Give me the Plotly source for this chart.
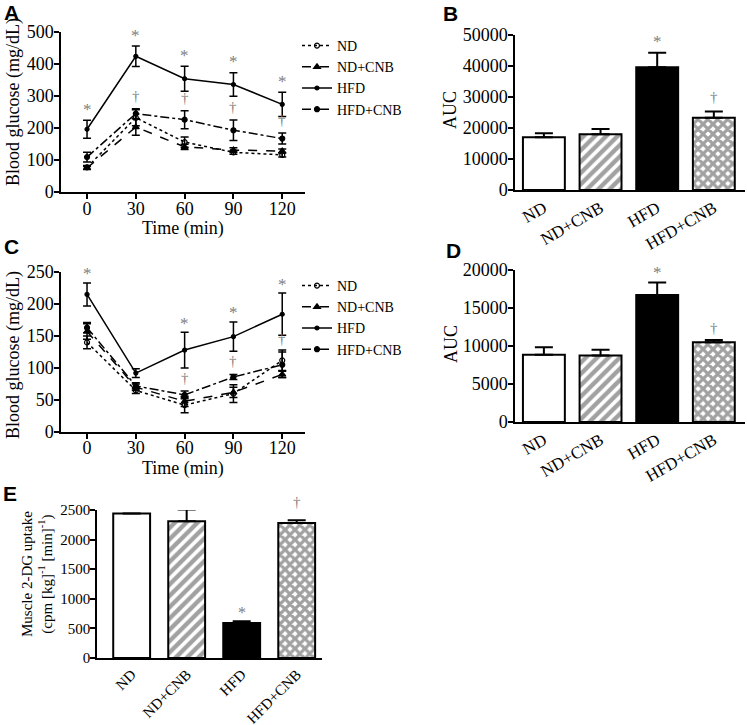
import plotly.graph_objects as go

W, H = 747, 725

time = [0, 30, 60, 90, 120]
groups = ["ND", "ND+CNB", "HFD", "HFD+CNB"]

# Panel A: glucose tolerance (mg/dL)
a_mean = {
    "ND": [77, 232, 156, 124, 116],
    "ND+CNB": [75, 203, 141, 131, 128],
    "HFD": [196, 424, 354, 336, 274],
    "HFD+CNB": [109, 245, 226, 193, 167],
}
a_err = {
    "ND": [6, 25, 16, 6, 7],
    "ND+CNB": [5, 26, 8, 7, 6],
    "HFD": [28, 32, 39, 37, 38],
    "HFD+CNB": [15, 15, 28, 32, 17],
}
a_star_idx = [0, 1, 2, 3, 4]
a_dagger_idx = [1, 2, 3, 4]

# Panel C: insulin tolerance (mg/dL)
c_mean = {
    "ND": [140, 65, 42, 60, 112],
    "ND+CNB": [157, 70, 48, 62, 90],
    "HFD": [215, 92, 128, 149, 184],
    "HFD+CNB": [163, 72, 58, 86, 105],
}
c_err = {
    "ND": [10, 5, 12, 14, 16],
    "ND+CNB": [12, 5, 8, 8, 5],
    "HFD": [18, 7, 28, 23, 33],
    "HFD+CNB": [8, 5, 6, 4, 20],
}
c_star_idx = [0, 2, 3, 4]
c_dagger_idx = [2, 3, 4]

# Panel B / D: AUC ; Panel E: muscle 2-DG uptake
b_val = [17000, 17960, 39570, 23300]
b_err = [1300, 1700, 4700, 2000]
d_val = [8840, 8750, 16700, 10500]
d_err = [1000, 750, 1650, 300]
e_val = [2440, 2310, 590, 2280]
e_err = [0, 200, 30, 45]

line_dash = {"ND": "dot", "ND+CNB": "dash", "HFD": "solid", "HFD+CNB": "dashdot"}
line_sym = {"ND": "circle-open", "ND+CNB": "triangle-up", "HFD": "circle", "HFD+CNB": "circle"}
line_msize = {"ND": 5, "ND+CNB": 6, "HFD": 4, "HFD+CNB": 5}
bar_color = ["white", "white", "black", "white"]
bar_pattern = ["", "/", "", "x"]
bar_pat_size = [8, 8, 8, 7]
bar_pat_solid = [0.3, 0.55, 0.3, 0.7]

SERIF = "Liberation Serif"
SANS = "Liberation Sans"
GREY = "#808080"


def xd(a, b):
    return [a / W, b / W]


def yd(top, bottom):
    return [1 - bottom / H, 1 - top / H]


fig = go.Figure()

# line panels
for axn, means, errs, leg in [("", a_mean, a_err, "legend"), ("3", c_mean, c_err, "legend2")]:
    for g in groups:
        fig.add_trace(go.Scatter(
            x=time, y=means[g], name=g, mode="lines+markers",
            line=dict(color="black", width=1.5, dash=line_dash[g]),
            marker=dict(symbol=line_sym[g], size=line_msize[g], color="black",
                        line=dict(color="black", width=1.2)),
            error_y=dict(type="data", array=errs[g], color="black", thickness=1.5, width=4),
            xaxis="x" + axn, yaxis="y" + axn, legend=leg, showlegend=True,
        ))

# bar panels
for axn, vals, errs, width in [("2", b_val, b_err, 0.74), ("4", d_val, d_err, 0.74),
                               ("5", e_val, e_err, 0.67)]:
    fig.add_trace(go.Bar(
        x=list(range(len(groups))), y=vals, width=width,
        marker=dict(color=bar_color, line=dict(color="black", width=2),
                    pattern=dict(shape=bar_pattern, fgcolor="black", bgcolor="white",
                                 size=bar_pat_size, solidity=bar_pat_solid)),
        error_y=dict(type="data", symmetric=False, array=errs, arrayminus=[0] * len(errs),
                     color="black", thickness=2, width=9),
        xaxis="x" + axn, yaxis="y" + axn, showlegend=False,
    ))

axis_common = dict(showline=True, linecolor="black", linewidth=1.5, showgrid=False, zeroline=False,
                   ticks="outside", ticklen=5, tickwidth=1.5, tickcolor="black", automargin=False,
                   tickformat="d", tickfont=dict(family=SERIF, size=18, color="black"))
ystd = dict(ticklabelstandoff=-3)

lay = dict(
    width=W, height=H, margin=dict(l=0, r=0, t=0, b=0, autoexpand=False),
    paper_bgcolor="white", plot_bgcolor="white",
    font=dict(family=SERIF, color="black"),
    xaxis=dict(domain=xd(61, 305), range=[-16, 134], tickvals=time, anchor="y",
               ticklabelstandoff=-5, **axis_common),
    yaxis=dict(domain=yd(32, 192), range=[0, 500], dtick=100, anchor="x", **ystd, **axis_common),
    xaxis3=dict(domain=xd(61, 305), range=[-16, 134], tickvals=time, anchor="y3",
                ticklabelstandoff=-6, **axis_common),
    yaxis3=dict(domain=yd(272, 432), range=[0, 250], dtick=50, anchor="x3", **ystd, **axis_common),
    yaxis2=dict(domain=yd(35, 190), range=[0, 50000], dtick=10000, anchor="x2", **ystd, **axis_common),
    yaxis4=dict(domain=yd(270, 422), range=[0, 20000], dtick=5000, anchor="x4", **ystd, **axis_common),
)
e_axis = dict(axis_common)
e_axis["tickfont"] = dict(family=SERIF, size=15, color="black")
lay["yaxis5"] = dict(domain=yd(510, 658), range=[0, 2500], dtick=500, anchor="x5", **ystd, **e_axis)

bar_x = dict(showline=True, linecolor="black", linewidth=1.5, showgrid=False, zeroline=False,
             ticks="", automargin=False, tickvals=list(range(len(groups))), ticktext=groups)
lay["xaxis2"] = dict(domain=xd(515, 745), range=[-0.51, 3.55], anchor="y2", tickangle=-30,
                     tickfont=dict(family=SERIF, size=17, color="black"), **bar_x)
lay["xaxis4"] = dict(domain=xd(515, 745), range=[-0.51, 3.55], anchor="y4", tickangle=-30,
                     tickfont=dict(family=SERIF, size=17, color="black"), **bar_x)
lay["xaxis5"] = dict(domain=xd(97, 322), range=[-0.63, 3.46], anchor="y5", tickangle=-45,
                     tickfont=dict(family=SERIF, size=15, color="black"), **bar_x)

lay["legend"] = dict(x=297 / W, y=1 - 30 / H, xanchor="left", yanchor="top",
                     font=dict(family=SERIF, size=14, color="black"), bgcolor="rgba(0,0,0,0)",
                     itemwidth=30, tracegroupgap=0)
lay["legend2"] = dict(x=297 / W, y=1 - 270 / H, xanchor="left", yanchor="top",
                      font=dict(family=SERIF, size=14, color="black"), bgcolor="rgba(0,0,0,0)",
                      itemwidth=30, tracegroupgap=0)
fig.update_layout(**lay)

ann = []


def paper_text(text, x, y, size, family=SERIF, angle=0, bold=False):
    ann.append(dict(text=("<b>%s</b>" % text) if bold else text, x=x / W, y=1 - y / H,
                    xref="paper", yref="paper", showarrow=False, textangle=angle,
                    font=dict(family=family, size=size, color="black"),
                    xanchor="center", yanchor="middle"))


# panel letters
for letter, px, py in [("A", 11, 13), ("B", 451, 14), ("C", 11, 246), ("D", 453, 250), ("E", 10, 493)]:
    paper_text(letter, px, py, 21, family=SANS, bold=True)

# axis titles
paper_text("Blood glucose (mg/dL)", 13, 102, 18, angle=-90)
paper_text("Time (min)", 183, 229, 18)
paper_text("Blood glucose (mg/dL)", 13, 355, 18, angle=-90)
paper_text("Time (min)", 183, 468, 18)
paper_text("AUC", 450, 110, 18, angle=-90)
paper_text("AUC", 451, 344, 18, angle=-90)
paper_text("Muscle 2-DG uptake<br>(cpm [kg]<sup>-1</sup> [min]<sup>-1</sup>)", 37, 574, 15, angle=-90)


def mark(text, x, y, axn, shift, size):
    ann.append(dict(text=text, x=x, y=y, xref="x" + axn, yref="y" + axn, showarrow=False,
                    yshift=shift, yanchor="middle", xanchor="center",
                    font=dict(family=SERIF, size=size, color=GREY)))


for i in a_star_idx:
    mark("*", time[i], a_mean["HFD"][i] + a_err["HFD"][i], "", 11, 17)
for i in a_dagger_idx:
    mark("†", time[i], a_mean["HFD+CNB"][i] + a_err["HFD+CNB"][i], "", 13, 15)
for i in c_star_idx:
    mark("*", time[i], c_mean["HFD"][i] + c_err["HFD"][i], "3", 9, 17)
for i in c_dagger_idx:
    mark("†", time[i], c_mean["HFD+CNB"][i] + c_err["HFD+CNB"][i], "3", 13, 15)

mark("*", 2, b_val[2] + b_err[2], "2", 11, 17)
mark("†", 3, b_val[3] + b_err[3], "2", 15, 15)
mark("*", 2, d_val[2] + d_err[2], "4", 10, 17)
mark("†", 3, d_val[3] + d_err[3], "4", 12, 15)
mark("*", 2, e_val[2] + e_err[2], "5", 9, 16)
mark("†", 3, e_val[3] + e_err[3], "5", 18, 15)

fig.update_layout(annotations=ann)
fig.write_html("out.html", config={"displayModeBar": False},
               post_script="document.body.style.margin='0px';document.body.style.overflow='hidden';")
